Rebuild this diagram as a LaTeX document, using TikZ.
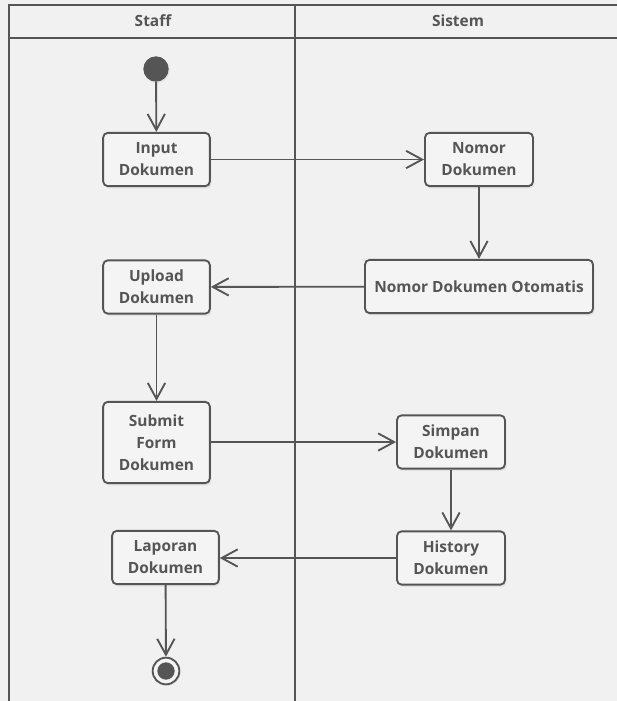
\documentclass[tikz,border=0pt]{standalone}
\usepackage{fontspec}
\setmainfont{Open Sans}
\usetikzlibrary{arrows.meta,shadows}
\definecolor{lc}{HTML}{555555}
\definecolor{bg}{HTML}{F1F1F1}
\definecolor{boxfill}{HTML}{F4F4F4}
\definecolor{txt}{HTML}{555555}
\tikzset{
  act/.style={draw=lc, fill=boxfill, rounded corners=3.5pt, line width=1.4pt,
    align=center, font=\bfseries\fontsize{11.6}{16.5}\selectfont, text=txt, inner sep=0pt,
    drop shadow={opacity=0.12, shadow xshift=1.2pt, shadow yshift=-1.8pt}},
  flow/.style={draw=lc, line width=1.4pt, -{Straight Barb[length=12pt,width=13pt,line width=1.4pt]}},
  lane/.style={draw=lc, line width=1.6pt},
  hdr/.style={font=\bfseries\fontsize{11.6}{14}\selectfont, text=txt}
}
\begin{document}
\begin{tikzpicture}[x=0.75pt,y=-0.75pt]
\useasboundingbox (0,0) rectangle (617,701);
\fill[bg] (0,0) rectangle (617,701);
% swimlanes
\draw[lane] (9,701) -- (9,5) -- (617,5);
\draw[lane] (9,38) -- (617,38);
\draw[lane] (295,5) -- (295,701);
\node[hdr] (hstaff) at (153,21) {Staff};
\node[hdr] (hsis) at (458,21) {Sistem};
% start
\node[circle, fill=lc, minimum size=19pt, inner sep=0pt,
  drop shadow={opacity=0.12, shadow xshift=0.8pt, shadow yshift=-1pt}] (start) at (156,69) {};
% activities
\node[act, minimum width=80pt, minimum height=40pt] (in) at (156.5,159.5) {Input\\Dokumen};
\node[act, minimum width=81pt, minimum height=40pt] (no) at (479,159.5) {Nomor\\Dokumen};
\node[act, minimum width=171pt, minimum height=40pt] (oto) at (479,286.5) {Nomor Dokumen Otomatis};
\node[act, minimum width=80pt, minimum height=40pt] (up) at (156.5,287) {Upload\\Dokumen};
\node[act, minimum width=80pt, minimum height=61pt] (sub) at (156.5,442.5) {Submit\\Form\\Dokumen};
\node[act, minimum width=81pt, minimum height=40pt] (sim) at (451,442) {Simpan\\Dokumen};
\node[act, minimum width=81pt, minimum height=40pt] (his) at (451,558) {History\\Dokumen};
\node[act, minimum width=80pt, minimum height=40pt] (lap) at (165.5,557.5) {Laporan\\Dokumen};
% end
\node[circle, draw=lc, line width=1.4pt, fill=boxfill, minimum size=20pt, inner sep=0pt,
  drop shadow={opacity=0.12, shadow xshift=0.8pt, shadow yshift=-1pt}] (end) at (166,671) {};
\fill[lc] (end.center) circle (6.5pt);
% flows
\draw[flow] (start) -- (in);
\draw[flow] (in) -- (no);
\draw[flow] (no) -- (oto);
\draw[flow] (oto) -- (up);
\draw[flow] (up) -- (sub);
\draw[flow] (sub.east |- sim.west) -- (sim.west);
\draw[flow] (sim) -- (his);
\draw[flow] (his.west) -- (lap.east |- his.west);
\draw[flow] (lap) -- (end);
\end{tikzpicture}
\end{document}
